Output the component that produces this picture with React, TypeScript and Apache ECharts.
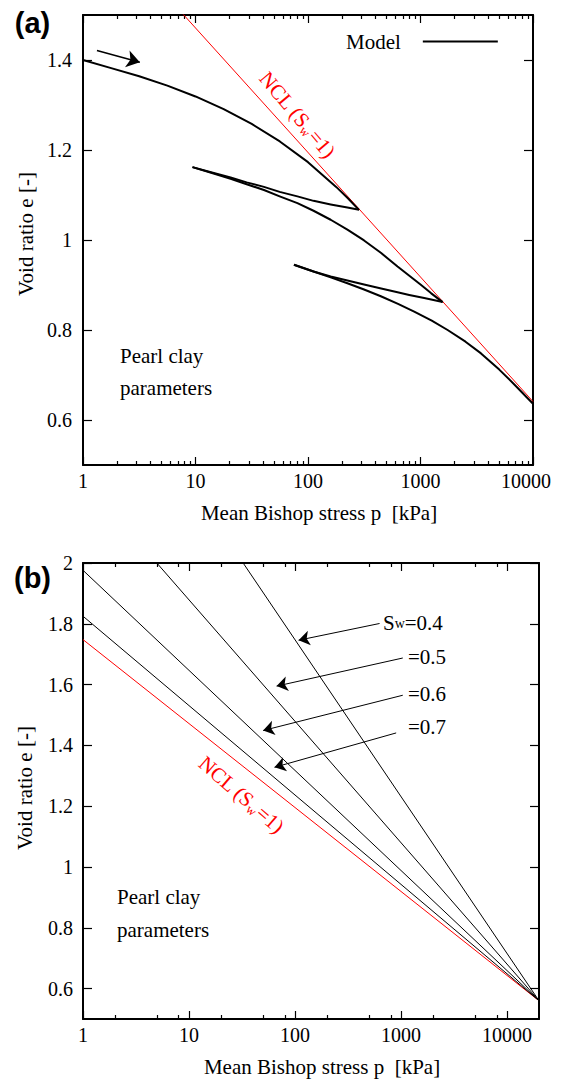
import React, { useEffect, useRef } from "react";
import * as echarts from "echarts";

const SERIF = '"Liberation Serif", "Times New Roman", Times, serif';
const SANS = '"Liberation Sans", Arial, Helvetica, sans-serif';

// ---------- Panel (a) ----------
const pMajorA = [1, 10, 100, 1000, 10000];
const pMinorA = [2, 3, 4, 5, 6, 7, 8, 9, 20, 30, 40, 50, 60, 70, 80, 90, 200, 300, 400, 500, 600, 700, 800, 900, 2000, 3000, 4000, 5000, 6000, 7000, 8000, 9000];
const eTicksA = [0.6, 0.8, 1.0, 1.2, 1.4];
const nclA = [[1, 1.748], [10000, 0.641]];
const loadA = [[1, 1.4], [1.78, 1.382], [3.16, 1.364], [5.62, 1.343], [10, 1.319], [17.8, 1.291], [31.6, 1.258], [56.2, 1.219], [100, 1.173], [178, 1.118], [224, 1.094], [284, 1.067]];
const unload1A = [[284, 1.067], [224, 1.072], [159, 1.079], [112, 1.087], [80.5, 1.097], [56, 1.107], [40.6, 1.118], [28.5, 1.128], [20.5, 1.139], [14, 1.150], [9.4, 1.162]];
const reload1A = [[9.4, 1.162], [14, 1.149], [20.5, 1.136], [28.5, 1.124], [40.6, 1.111], [56, 1.097], [80.5, 1.082], [112, 1.065], [159, 1.045], [224, 1.023], [315, 0.999], [447, 0.971], [625, 0.941], [1000, 0.901], [1238, 0.882], [1574, 0.862]];
const unload2A = [[1574, 0.862], [1079, 0.871], [794, 0.878], [625, 0.884], [447, 0.892], [315, 0.901], [224, 0.910], [159, 0.919], [112, 0.930], [75, 0.945]];
const reload2A = [[75, 0.945], [112, 0.930], [159, 0.917], [224, 0.904], [315, 0.890], [444, 0.875], [631, 0.858], [879, 0.841], [1259, 0.821], [1742, 0.800], [2512, 0.774], [3451, 0.748], [5012, 0.712], [6823, 0.679], [10000, 0.636]];
const arrowA = [[1.33, 1.421], [3.2, 1.395]];

// ---------- Panel (b) ----------
const pMajorB = [1, 10, 100, 1000, 10000];
const pMinorB = [2, 5, 8, 20, 50, 80, 200, 500, 800, 2000, 5000, 8000];
const eTicksB = [0.6, 0.8, 1.0, 1.2, 1.4, 1.6, 1.8, 2.0];
const nclB = [[1, 1.748], [20000, 0.56]];
const sw07 = [[1, 1.825], [20000, 0.56]];
const sw06 = [[1, 1.976], [20000, 0.56]];
const sw05 = [[4.97, 2.0], [20000, 0.56]];
const sw04 = [[32.4, 2.0], [20000, 0.56]];
const arrowsB = [
  [[627, 1.801], [108, 1.746]],
  [[1038, 1.6875], [67, 1.595]],
  [[1038, 1.565], [50, 1.449]],
  [[899, 1.441], [64, 1.328]],
];

const xTitle = "Mean Bishop stress p  [kPa]";
const yTitle = "Void ratio e [-]";

const BLACK = "#000000";
const RED = "#ff0000";

function fmtP(v: number) {
  return String(Math.round(v));
}
function fmtE(v: number) {
  return String(Math.round(v * 10) / 10);
}

function xAxesFor(gridIndex: number, max: number, major: number[], minor: number[], labelMargin: number, shiftMax: boolean) {
  const common = { type: "log", logBase: 10, gridIndex, min: 1, max, splitLine: { show: false } };
  return [
    {
      ...common,
      position: "bottom",
      axisLine: { show: true, onZero: false, lineStyle: { color: BLACK, width: 2 } },
      axisTick: { show: true, inside: true, length: 8, customValues: major, lineStyle: { color: BLACK, width: 1.2 } },
      axisLabel: {
        show: true,
        customValues: major,
        margin: labelMargin,
        color: BLACK,
        fontFamily: SERIF,
        fontSize: 20,
        formatter: (v: number) => (shiftMax && Math.round(v) === max ? "{m|" + fmtP(v) + "}" : fmtP(v)),
        rich: { m: { fontFamily: SERIF, fontSize: 20, color: BLACK, padding: [0, 14, 0, 0] } },
      },
      name: xTitle,
      nameLocation: "middle",
      nameGap: 37,
      nameTextStyle: { fontFamily: SERIF, fontSize: 21, color: BLACK, padding: [0, 0, 0, 22] },
    },
    {
      ...common,
      position: "bottom",
      axisLine: { show: false, onZero: false },
      axisTick: { show: true, inside: true, length: 4, customValues: minor, lineStyle: { color: BLACK, width: 1.2 } },
      axisLabel: { show: false },
    },
    {
      ...common,
      position: "top",
      axisLine: { show: true, onZero: false, lineStyle: { color: BLACK, width: 2 } },
      axisTick: { show: true, inside: true, length: 8, customValues: major, lineStyle: { color: BLACK, width: 1.2 } },
      axisLabel: { show: false },
    },
    {
      ...common,
      position: "top",
      axisLine: { show: false, onZero: false },
      axisTick: { show: true, inside: true, length: 4, customValues: minor, lineStyle: { color: BLACK, width: 1.2 } },
      axisLabel: { show: false },
    },
  ];
}

function yAxesFor(gridIndex: number, min: number, max: number, ticks: number[], labelMargin: number, nameGap: number, namePad: number) {
  const common = { type: "value", gridIndex, min, max, splitLine: { show: false } };
  return [
    {
      ...common,
      position: "left",
      axisLine: { show: true, onZero: false, lineStyle: { color: BLACK, width: 2 } },
      axisTick: { show: true, inside: true, length: 9, customValues: ticks, lineStyle: { color: BLACK, width: 1.2 } },
      axisLabel: { show: true, customValues: ticks, margin: labelMargin, color: BLACK, fontFamily: SERIF, fontSize: 20, formatter: fmtE },
      name: yTitle,
      nameLocation: "middle",
      nameGap,
      nameRotate: 90,
      nameTextStyle: { fontFamily: SERIF, fontSize: 21, color: BLACK, padding: [0, 0, 0, namePad] },
    },
    {
      ...common,
      position: "right",
      axisLine: { show: true, onZero: false, lineStyle: { color: BLACK, width: 2 } },
      axisTick: { show: true, inside: true, length: 9, customValues: ticks, lineStyle: { color: BLACK, width: 1.2 } },
      axisLabel: { show: false },
    },
  ];
}

function modelSeries(data: number[][]) {
  return {
    type: "line",
    name: "Model",
    xAxisIndex: 0,
    yAxisIndex: 0,
    data,
    symbol: "none",
    smooth: false,
    color: BLACK,
    lineStyle: { color: BLACK, width: 2, join: "round" },
    silent: true,
    z: 3,
  };
}

function swSeries(name: string, data: number[][]) {
  return {
    type: "line",
    name,
    xAxisIndex: 4,
    yAxisIndex: 2,
    data,
    symbol: "none",
    color: BLACK,
    lineStyle: { color: BLACK, width: 1 },
    silent: true,
    z: 3,
  };
}

function serifText(x: number, y: number, text: string, extra: any = {}) {
  return {
    type: "text",
    x,
    y,
    silent: true,
    style: { text, fill: BLACK, fontFamily: SERIF, fontSize: 21, align: "left", verticalAlign: "middle", ...extra },
  };
}

function nclLabel(x: number, y: number, deg: number) {
  return {
    type: "text",
    x,
    y,
    rotation: (deg * Math.PI) / 180,
    silent: true,
    style: {
      text: "{n|NCL (S}{s|w}{n|=1)}",
      align: "center",
      verticalAlign: "middle",
      rich: {
        n: { fontFamily: SERIF, fontSize: 21, fill: RED, verticalAlign: "top" },
        s: { fontFamily: SERIF, fontSize: 13, fill: RED, verticalAlign: "top", padding: [9, 1, 0, 0] },
      },
    },
  };
}

function swLabel(x: number, y: number, value: string, withS: boolean) {
  return {
    type: "text",
    x,
    y,
    silent: true,
    style: {
      text: withS ? "{n|S}{s|w}{n|" + value + "}" : "{n|" + value + "}",
      align: "left",
      verticalAlign: "middle",
      rich: {
        n: { fontFamily: SERIF, fontSize: 21, fill: BLACK },
        s: { fontFamily: SERIF, fontSize: 14, fill: BLACK },
      },
    },
  };
}

export default function App() {
  const ref = useRef<HTMLDivElement>(null);

  useEffect(() => {
    if (!ref.current) return;
    const chart = echarts.init(ref.current, null, { renderer: "svg" });

    const option: any = {
      animation: false,
      backgroundColor: "#ffffff",
      textStyle: { fontFamily: SERIF, color: BLACK },
      grid: [
        { left: 83, top: 15, width: 450, height: 450, containLabel: false, outerBoundsMode: "none" },
        { left: 83, top: 563, width: 456, height: 456, containLabel: false, outerBoundsMode: "none" },
      ],
      legend: {
        data: ["Model"],
        left: 346,
        top: 31,
        align: "right",
        orient: "horizontal",
        padding: 0,
        itemWidth: 75,
        itemHeight: 14,
        selectedMode: false,
        itemStyle: { color: "rgba(0,0,0,0)", borderWidth: 0, opacity: 0 },
        lineStyle: { color: BLACK, width: 2 },
        textStyle: { fontFamily: SERIF, fontSize: 21, color: BLACK, padding: [0, 17, 0, 0] },
      },
      xAxis: [
        ...xAxesFor(0, 10000, pMajorA, pMinorA, 6, true),
        ...xAxesFor(1, 20000, pMajorB, pMinorB, 6, false),
      ],
      yAxis: [
        ...yAxesFor(0, 0.5, 1.5, eTicksA, 11, 46, 12),
        ...yAxesFor(1, 0.5, 2.0, eTicksB, 10, 48, 6),
      ],
      series: [
        {
          type: "line",
          name: "NCL",
          xAxisIndex: 0,
          yAxisIndex: 0,
          data: nclA,
          symbol: "none",
          color: RED,
          lineStyle: { color: RED, width: 1 },
          silent: true,
          z: 2,
          markLine: {
            silent: true,
            animation: false,
            symbol: ["none", "arrow"],
            symbolSize: 13,
            label: { show: false },
            lineStyle: { color: BLACK, width: 1.6, type: "solid" },
            emphasis: { disabled: true },
            data: [[{ coord: arrowA[0] }, { coord: arrowA[1] }]],
          },
        },
        modelSeries(loadA),
        modelSeries(unload1A),
        modelSeries(reload1A),
        modelSeries(unload2A),
        modelSeries(reload2A),
        {
          type: "line",
          name: "NCL (b)",
          xAxisIndex: 4,
          yAxisIndex: 2,
          data: nclB,
          symbol: "none",
          color: RED,
          lineStyle: { color: RED, width: 1 },
          silent: true,
          z: 2,
          markLine: {
            silent: true,
            animation: false,
            symbol: ["none", "arrow"],
            symbolSize: 11,
            label: { show: false },
            lineStyle: { color: BLACK, width: 1, type: "solid" },
            emphasis: { disabled: true },
            data: arrowsB.map((a) => [{ coord: a[0] }, { coord: a[1] }]),
          },
        },
        swSeries("Sw=0.7", sw07),
        swSeries("Sw=0.6", sw06),
        swSeries("Sw=0.5", sw05),
        swSeries("Sw=0.4", sw04),
      ],
      graphic: [
        {
          type: "text",
          x: 32.5,
          y: 23,
          silent: true,
          style: { text: "(a)", fill: BLACK, fontFamily: SANS, fontWeight: "bold", fontSize: 29, align: "center", verticalAlign: "middle" },
        },
        {
          type: "text",
          x: 32.5,
          y: 578,
          silent: true,
          style: { text: "(b)", fill: BLACK, fontFamily: SANS, fontWeight: "bold", fontSize: 29, align: "center", verticalAlign: "middle" },
        },
        nclLabel(297, 115, -50),
        nclLabel(241, 795, -41),
        serifText(120, 356, "Pearl clay"),
        serifText(120, 388, "parameters"),
        serifText(117, 897, "Pearl clay"),
        serifText(117, 930, "parameters"),
        swLabel(383, 623, "=0.4", true),
        swLabel(408, 657, "=0.5", false),
        swLabel(408, 694, "=0.6", false),
        swLabel(408, 727, "=0.7", false),
      ],
    };

    chart.setOption(option);
    return () => {
      chart.dispose();
    };
  }, []);

  return (
    <div
      ref={ref}
      style={{ position: "fixed", left: 0, top: 0, width: 563, height: 1080, background: "#ffffff" }}
    />
  );
}
